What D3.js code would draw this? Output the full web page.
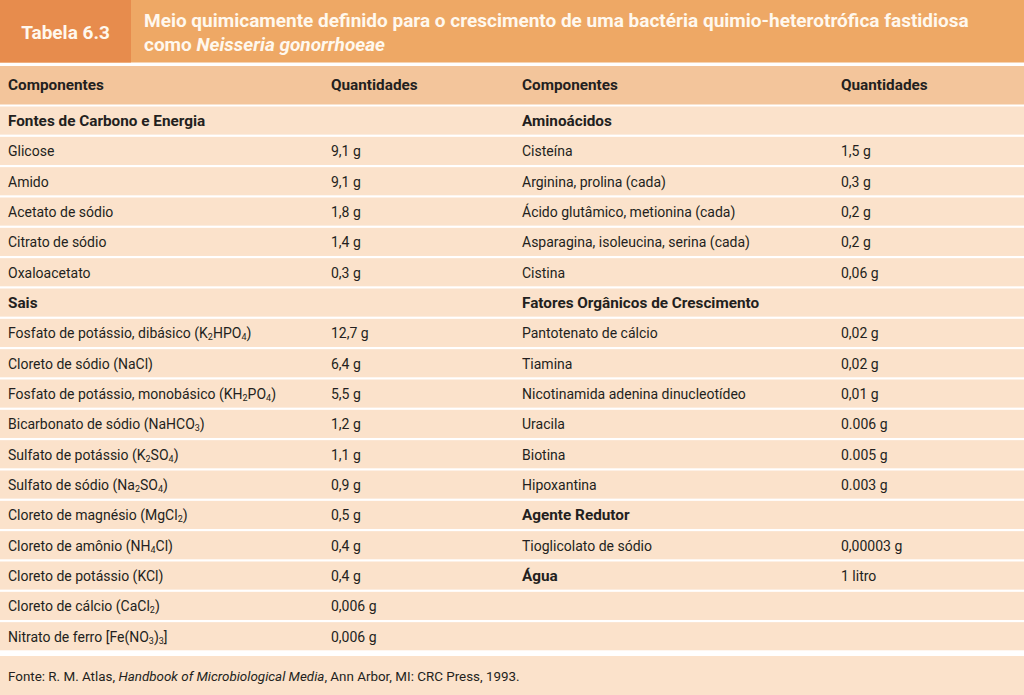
<!DOCTYPE html>
<html><head><meta charset="utf-8">
<script src="https://cdn.jsdelivr.net/npm/d3@7"></script>
<style>
html,body{margin:0;padding:0;background:#fff;}
svg{display:block;}
text{font-family:Roboto,"Liberation Sans",sans-serif;fill:#231f20;}
</style></head>
<body>
<script>
// ---- data ----
const tableLabel = "Tabela 6.3";
const titleLine1 = "Meio quimicamente definido para o crescimento de uma bactéria quimio-heterotrófica fastidiosa";
const titleLine2Plain = "como ";
const titleLine2Italic = "Neisseria gonorrhoeae";
const columnHeaders = ["Componentes", "Quantidades"];
// "_n" marks a subscript digit; kind: h = bold group heading, r = regular row, b = bold name with value
const leftNames = ["Fontes de Carbono e Energia","Glicose","Amido","Acetato de sódio","Citrato de sódio","Oxaloacetato","Sais",
  "Fosfato de potássio, dibásico (K_2HPO_4)","Cloreto de sódio (NaCl)","Fosfato de potássio, monobásico (KH_2PO_4)",
  "Bicarbonato de sódio (NaHCO_3)","Sulfato de potássio (K_2SO_4)","Sulfato de sódio (Na_2SO_4)","Cloreto de magnésio (MgCl_2)",
  "Cloreto de amônio (NH_4Cl)","Cloreto de potássio (KCl)","Cloreto de cálcio (CaCl_2)","Nitrato de ferro [Fe(NO_3)_3]"];
const leftQty = ["","9,1 g","9,1 g","1,8 g","1,4 g","0,3 g","","12,7 g","6,4 g","5,5 g","1,2 g","1,1 g","0,9 g","0,5 g","0,4 g","0,4 g","0,006 g","0,006 g"];
const leftKind = ["h","r","r","r","r","r","h","r","r","r","r","r","r","r","r","r","r","r"];
const rightNames = ["Aminoácidos","Cisteína","Arginina, prolina (cada)","Ácido glutâmico, metionina (cada)","Asparagina, isoleucina, serina (cada)",
  "Cistina","Fatores Orgânicos de Crescimento","Pantotenato de cálcio","Tiamina","Nicotinamida adenina dinucleotídeo","Uracila",
  "Biotina","Hipoxantina","Agente Redutor","Tioglicolato de sódio","Água","",""];
const rightQty = ["","1,5 g","0,3 g","0,2 g","0,2 g","0,06 g","","0,02 g","0,02 g","0,01 g","0.006 g","0.005 g","0.003 g","","0,00003 g","1 litro","",""];
const rightKind = ["h","r","r","r","r","r","h","r","r","r","r","r","r","h","r","b","r","r"];
const sourcePrefix = "Fonte: R. M. Atlas, ";
const sourceItalic = "Handbook of Microbiological Media";
const sourceSuffix = ", Ann Arbor, MI: CRC Press, 1993.";

// ---- layout ----
const W = 1024, H = 695;
const C = {labelBox:"#e78c4d", titleBand:"#eea865", head:"#f3c59b", row:"#fbe2cb", text:"#231f20", title:"#fff8ee"};
const svg = d3.select("body").append("svg").attr("width", W).attr("height", H);

const rowIdx = d3.range(leftNames.length);
const y = d3.scaleBand().domain(rowIdx).range([106.5, 652.5]).paddingInner(0);
const colX = d3.scaleOrdinal().domain(["ln","lq","rn","rq"]).range([8, 331, 522, 841]);

// title band
svg.append("rect").attr("x",0).attr("y",0).attr("width",W).attr("height",62.5).attr("fill",C.titleBand);
svg.append("rect").attr("x",0).attr("y",0).attr("width",131).attr("height",62.5).attr("fill",C.labelBox);
svg.append("text").attr("x",65.5).attr("y",32).attr("text-anchor","middle").attr("dominant-baseline","central")
  .style("font-weight","bold").style("font-size","19px").style("fill",C.title).text(tableLabel);
svg.append("text").attr("x",144).attr("y",27).style("font-weight","bold").style("font-size","19px").style("fill",C.title)
  .text(titleLine1);
const t2 = svg.append("text").attr("x",144).attr("y",51).style("font-weight","bold").style("font-size","19px").style("fill",C.title);
t2.append("tspan").text(titleLine2Plain);
t2.append("tspan").style("font-style","italic").text(titleLine2Italic);

// column header
svg.append("rect").attr("x",0).attr("y",66).attr("width",W).attr("height",38.5).attr("fill",C.head);
[["ln",columnHeaders[0]],["lq",columnHeaders[1]],["rn",columnHeaders[0]],["rq",columnHeaders[1]]].forEach(([k,t])=>{
  svg.append("text").attr("x",colX(k)).attr("y",85).attr("dominant-baseline","central")
    .style("font-weight","bold").style("font-size","15.3px").text(t);
});

// body rows
svg.append("g").selectAll("rect").data(rowIdx).join("rect")
  .attr("x",0).attr("width",W).attr("y",i=>y(i)).attr("height",y.bandwidth()-2.2).attr("fill",C.row);

function richText(sel, str){
  str.split(/(_\d)/).forEach(p=>{
    if(!p) return;
    if(p[0]==="_"){
      sel.append("tspan").attr("baseline-shift","-4").style("font-size","9px").text(p.slice(1));
    } else sel.append("tspan").text(p);
  });
}
function drawCol(names, qty, kind, nk, qk){
  const g = svg.append("g");
  names.forEach((n,i)=>{
    const cy = y(i) + (y.bandwidth()-2.2)/2 + 0.5;
    if(n){
      const bold = kind[i]!=="r";
      const t = g.append("text").attr("x",colX(nk)).attr("y",cy).attr("dominant-baseline","central")
        .style("font-size", bold ? "15.3px" : "14px").style("font-weight", bold?"bold":"normal");
      richText(t, n);
    }
    if(qty[i]){
      g.append("text").attr("x",colX(qk)).attr("y",cy).attr("dominant-baseline","central")
        .style("font-size","14px").text(qty[i]);
    }
  });
}
drawCol(leftNames,leftQty,leftKind,"ln","lq");
drawCol(rightNames,rightQty,rightKind,"rn","rq");

// footer
svg.append("rect").attr("x",0).attr("y",656).attr("width",W).attr("height",H-656).attr("fill",C.row);
const f = svg.append("text").attr("x",8).attr("y",676).attr("dominant-baseline","central").style("font-size","13.4px");
f.append("tspan").text(sourcePrefix);
f.append("tspan").style("font-style","italic").text(sourceItalic);
f.append("tspan").text(sourceSuffix);
</script>
</body></html>
